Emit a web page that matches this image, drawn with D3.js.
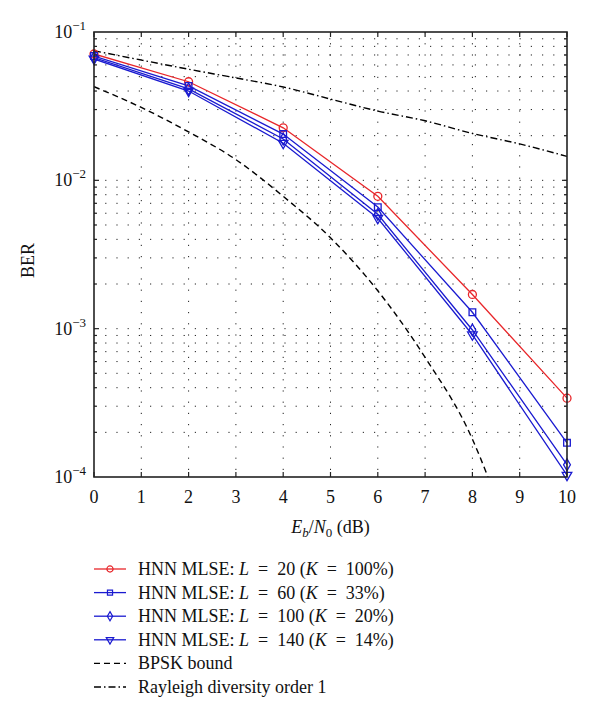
<!DOCTYPE html>
<html><head><meta charset="utf-8">
<script src="https://cdn.jsdelivr.net/npm/d3@7"></script>
<style>
body{margin:0;background:#fff;}
svg{display:block;}
svg text{font-family:"Liberation Serif","DejaVu Serif","Noto Serif",Times,serif;}
</style></head>
<body>
<script>
// ---- data ----
const snrMarked = [0, 2, 4, 6, 8, 10];
const berL20  = [0.0711, 0.0462, 0.0226, 0.0078, 0.0017, 0.00034];
const berL60  = [0.0689, 0.0433, 0.0205, 0.0066, 0.00129, 0.00017];
const berL100 = [0.0673, 0.0413, 0.0190, 0.0059, 0.00098, 0.000121];
const berL140 = [0.0658, 0.0400, 0.0178, 0.00555, 0.00091, 0.000103];
const snrBpsk = [0, 1, 2, 3, 4, 5, 6, 7, 8, 8.33];
const berBpsk = [0.0428, 0.031, 0.0212, 0.0138, 0.0078, 0.0041, 0.0018, 0.00064, 0.00018, 0.0001];
const snrRay = [0, 1, 2, 3, 4, 5, 6, 7, 8, 9, 10];
const berRay = [0.0748, 0.0647, 0.0561, 0.049, 0.0426, 0.0353, 0.0293, 0.0252, 0.0207, 0.0176, 0.0145];
const xTicks = [0,1,2,3,4,5,6,7,8,9,10];
const yDecades = [-1, -2, -3, -4];
const legendLabels = [
  ["HNN MLSE: ", "L", "\u2002=\u200220 (", "K", "\u2002=\u2002100%)"],
  ["HNN MLSE: ", "L", "\u2002=\u200260 (", "K", "\u2002=\u200233%)"],
  ["HNN MLSE: ", "L", "\u2002=\u2002100 (", "K", "\u2002=\u200220%)"],
  ["HNN MLSE: ", "L", "\u2002=\u2002140 (", "K", "\u2002=\u200214%)"],
  ["BPSK bound"],
  ["Rayleigh diversity order 1"]
];

const W = 600, H = 719;
const m = {l: 94, t: 32, r: 33, b: 242};
const pw = W - m.l - m.r, ph = H - m.t - m.b;
const svg = d3.select("body").append("svg").attr("width", W).attr("height", H);
const x = d3.scaleLinear().domain([0, 10]).range([m.l, m.l + pw]);
const y = d3.scaleLog().domain([1e-4, 1e-1]).range([m.t + ph, m.t]);

const RED = "#e8262a", BLUE = "#1a1ad0";

// grid
const g = svg.append("g");
const minorVals = [];
for (let e = -4; e < -1; e++) for (let k = 1; k <= 9; k++) { const v = k * Math.pow(10, e); if (v > 1e-4 && v < 1e-1) minorVals.push(v); }
g.selectAll(".hg").data(minorVals).enter().append("line")
  .attr("x1", m.l).attr("x2", m.l + pw).attr("y1", d => y(d)).attr("y2", d => y(d))
  .attr("stroke", "#222").attr("stroke-width", 1).attr("stroke-dasharray", "1.2,10");
g.selectAll(".vg").data(xTicks.slice(1, -1)).enter().append("line")
  .attr("x1", d => x(d)).attr("x2", d => x(d)).attr("y1", m.t).attr("y2", m.t + ph)
  .attr("stroke", "#222").attr("stroke-width", 1).attr("stroke-dasharray", "1.2,10");

// clip
svg.append("clipPath").attr("id", "clip").append("rect").attr("x", m.l).attr("y", m.t).attr("width", pw).attr("height", ph);
const pl = svg.append("g").attr("clip-path", "url(#clip)");
const line = d3.line().x(d => x(d[0])).y(d => y(d[1]));
const lineSmooth = d3.line().x(d => x(d[0])).y(d => y(d[1])).curve(d3.curveMonotoneX);

pl.append("path").datum(d3.zip(snrBpsk, berBpsk)).attr("d", lineSmooth)
  .attr("fill", "none").attr("stroke", "#000").attr("stroke-width", 1.4).attr("stroke-dasharray", "6,4");
pl.append("path").datum(d3.zip(snrRay, berRay)).attr("d", lineSmooth)
  .attr("fill", "none").attr("stroke", "#000").attr("stroke-width", 1.4).attr("stroke-dasharray", "7,3,1.5,3");

const series = [
  {v: berL20, c: RED, s: d3.symbolCircle, size: 50},
  {v: berL60, c: BLUE, s: d3.symbolSquare, size: 44},
  {v: berL100, c: BLUE, s: d3.symbolDiamond, size: 40},
  {v: berL140, c: BLUE, s: "tri", size: 40}
];
function markerPath(s, size) {
  if (s === "tri") return d3.symbol().type(d3.symbolTriangle).size(size)();
  return d3.symbol().type(s).size(size)();
}
const mk = svg.append("g");
series.forEach(se => {
  pl.append("path").datum(d3.zip(snrMarked, se.v)).attr("d", line)
    .attr("fill", "none").attr("stroke", se.c).attr("stroke-width", 1.3);
  mk.selectAll(null).data(d3.zip(snrMarked, se.v)).enter().append("path")
    .attr("d", markerPath(se.s, se.size))
    .attr("transform", d => `translate(${x(d[0])},${y(d[1])})` + (se.s === "tri" ? " rotate(180)" : ""))
    .attr("fill", "none").attr("stroke", se.c).attr("stroke-width", 1.3);
});

// frame and ticks
svg.append("rect").attr("x", m.l).attr("y", m.t).attr("width", pw).attr("height", ph)
  .attr("fill", "none").attr("stroke", "#222").attr("stroke-width", 1.6);
const ax = svg.append("g").attr("stroke", "#222").attr("stroke-width", 1.2);
xTicks.forEach(t => {
  ax.append("line").attr("x1", x(t)).attr("x2", x(t)).attr("y1", m.t + ph).attr("y2", m.t + ph - 5);
  ax.append("line").attr("x1", x(t)).attr("x2", x(t)).attr("y1", m.t).attr("y2", m.t + 5);
});
minorVals.forEach(v => {
  const isMaj = Math.abs(Math.log10(v) - Math.round(Math.log10(v))) < 1e-9;
  const len = isMaj ? 5 : 3;
  ax.append("line").attr("x1", m.l).attr("x2", m.l + len).attr("y1", y(v)).attr("y2", y(v));
  ax.append("line").attr("x1", m.l + pw).attr("x2", m.l + pw - len).attr("y1", y(v)).attr("y2", y(v));
});

// tick labels
svg.selectAll(".xl").data(xTicks).enter().append("text")
  .attr("x", d => x(d)).attr("y", m.t + ph + 26).attr("text-anchor", "middle")
  .attr("font-size", 18).attr("fill", "#111").text(d => d);
yDecades.forEach(e => {
  const t = svg.append("text").attr("x", m.l - 8).attr("y", y(Math.pow(10, e)) + 6)
    .attr("text-anchor", "end").attr("font-size", 18).attr("fill", "#111");
  t.append("tspan").text("10");
  t.append("tspan").attr("dy", -8).attr("font-size", 13).text("\u2212" + (-e));
});

// axis titles
const xt = svg.append("text").attr("x", m.l + pw / 2).attr("y", m.t + ph + 56)
  .attr("text-anchor", "middle").attr("font-size", 18).attr("fill", "#111");
xt.append("tspan").attr("font-style", "italic").text("E");
xt.append("tspan").attr("font-style", "italic").attr("font-size", 13).attr("dy", 4).text("b");
xt.append("tspan").attr("dy", -4).text("/");
xt.append("tspan").attr("font-style", "italic").text("N");
xt.append("tspan").attr("font-size", 13).attr("dy", 4).text("0");
xt.append("tspan").attr("dy", -4).text(" (dB)");

svg.append("text").attr("transform", `translate(34,${m.t + ph / 2 + 6}) rotate(-90)`)
  .attr("text-anchor", "middle").attr("font-size", 18).attr("fill", "#111").text("BER");

// legend
const lg = svg.append("g");
const legStyles = [
  {c: RED, s: d3.symbolCircle, size: 30, dash: null},
  {c: BLUE, s: d3.symbolSquare, size: 26, dash: null},
  {c: BLUE, s: d3.symbolDiamond, size: 24, dash: null},
  {c: BLUE, s: "tri", size: 24, dash: null},
  {c: "#000", s: null, dash: "6,4"},
  {c: "#000", s: null, dash: "7,3,1.5,3"}
];
legendLabels.forEach((lab, i) => {
  const yy = 569 + i * 23.6;
  const st = legStyles[i];
  lg.append("line").attr("x1", 94).attr("x2", 126).attr("y1", yy).attr("y2", yy)
    .attr("stroke", st.c).attr("stroke-width", 1.3).attr("stroke-dasharray", st.dash);
  if (st.s) lg.append("path").attr("d", markerPath(st.s, st.size))
    .attr("transform", `translate(110,${yy})` + (st.s === "tri" ? " rotate(180)" : ""))
    .attr("fill", "none").attr("stroke", st.c).attr("stroke-width", 1.2);
  const t = lg.append("text").attr("x", 138).attr("y", yy + 6).attr("font-size", 18)
    .attr("fill", "#111");
  lab.forEach((part, j) => {
    const ts = t.append("tspan").text(part);
    if (part === "L" || part === "K") ts.attr("font-style", "italic");
  });
});
</script>
</body></html>
